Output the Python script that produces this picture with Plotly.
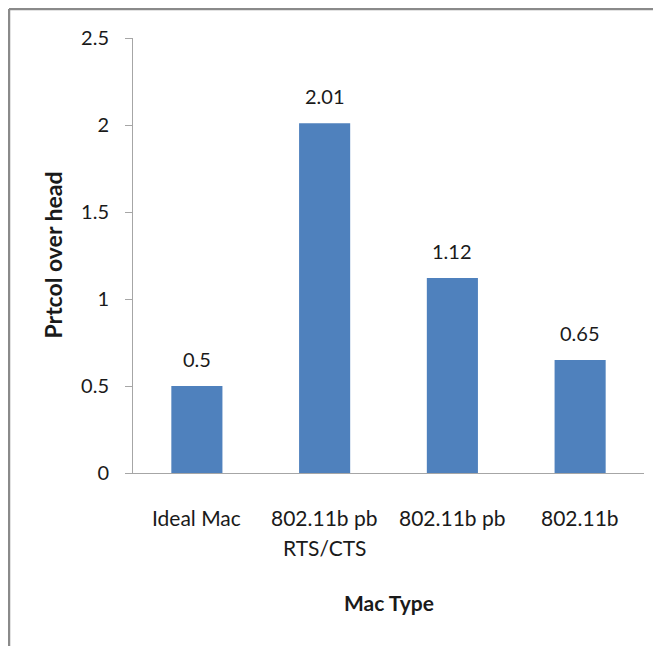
import plotly.graph_objects as go

categories = ["Ideal Mac", "802.11b pb\nRTS/CTS", "802.11b pb", "802.11b"]
values = [0.5, 2.01, 1.12, 0.65]
value_labels = ["0.5", "2.01", "1.12", "0.65"]
y_ticks = [0, 0.5, 1, 1.5, 2, 2.5]
y_tick_labels = ["0", "0.5", "1", "1.5", "2", "2.5"]
x_title = "Mac Type"
y_title = "Prtcol over head"

# page has an 8px body margin; layout coordinates are relative to the figure
W, H = 661, 646
OFF = 8
L, T = 133 - OFF, 38 - OFF
R = W - (644 - OFF)
B = H - (473 - OFF)
pw = W - L - R
ph = H - T - B

FONT = "Lato, Open Sans, Liberation Sans, sans-serif"
FS = 20
TXT = "#1a1a1a"
AX = "#a6a6a6"

fig = go.Figure()
fig.add_trace(go.Bar(
    x=list(range(len(categories))), y=values,
    marker=dict(color="#4F81BD", line=dict(width=0)),
    width=0.4, hoverinfo="skip", showlegend=False,
))

ann = []
for i, (v, t) in enumerate(zip(values, value_labels)):
    ann.append(dict(x=i, y=v, xref="x", yref="y", text=t, showarrow=False,
                    yanchor="middle", yshift=27,
                    font=dict(family=FONT, size=FS, color=TXT)))
for i, c in enumerate(categories):
    for j, line in enumerate(c.split("\n")):
        ann.append(dict(x=i, y=0, xref="x", yref="y", text=line, showarrow=False,
                        yanchor="middle", yshift=-44 - 30 * j,
                        font=dict(family=FONT, size=21, color=TXT)))
ann.append(dict(x=0.5, y=-(602 - 473) / ph, xref="paper", yref="paper",
                text="<b>" + x_title + "</b>", showarrow=False,
                xanchor="center", yanchor="middle",
                font=dict(family=FONT, size=21, color=TXT)))
ann.append(dict(x=(52 - 133) / pw, y=0.5, xref="paper", yref="paper",
                text="<b>" + y_title + "</b>", showarrow=False, textangle=-90,
                xanchor="center", yanchor="middle",
                font=dict(family=FONT, size=23, color=TXT)))

# outer frame (top and left edges visible)
fx0 = (1 - L) / pw
fy0 = (ph + T - 1) / ph
shapes = [
    dict(type="line", xref="paper", yref="paper", x0=fx0, y0=fy0, x1=(W - L + 5) / pw, y1=fy0,
         line=dict(color="#8a8a8a", width=2.5)),
    dict(type="line", xref="paper", yref="paper", x0=fx0, y0=fy0, x1=fx0, y1=-(B + 5) / ph,
         line=dict(color="#8a8a8a", width=2.5)),
]

fig.update_layout(
    width=W, height=H,
    margin=dict(l=L, r=R, t=T, b=B, autoexpand=False),
    paper_bgcolor="white", plot_bgcolor="white",
    annotations=ann, shapes=shapes,
    xaxis=dict(range=[-0.5, len(categories) - 0.5], showticklabels=False, ticks="",
               showgrid=False, zeroline=False, showline=True, linecolor=AX, linewidth=1,
               fixedrange=True),
    yaxis=dict(range=[0, 2.5], tickvals=y_ticks, ticktext=y_tick_labels,
               ticks="outside", ticklen=7, tickcolor=AX, tickwidth=1,
               ticklabelstandoff=12,
               showgrid=False, zeroline=False, showline=True, linecolor=AX, linewidth=1,
               tickfont=dict(family=FONT, size=FS, color=TXT), fixedrange=True),
)

fig.write_html("out.html")
